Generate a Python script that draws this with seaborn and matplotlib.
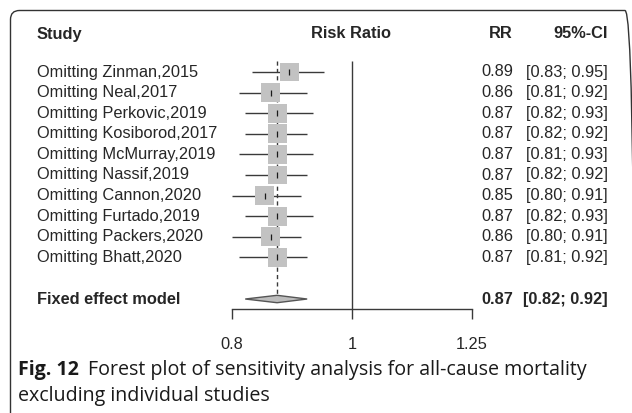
import numpy as np
import pandas as pd
import matplotlib
matplotlib.use("Agg")
import matplotlib.pyplot as plt
import seaborn as sns
from matplotlib.patches import FancyBboxPatch, Polygon
from matplotlib.transforms import blended_transform_factory, IdentityTransform

# ---- data -------------------------------------------------------------
studies = [
    "Omitting Zinman,2015", "Omitting Neal,2017", "Omitting Perkovic,2019",
    "Omitting Kosiborod,2017", "Omitting McMurray,2019", "Omitting Nassif,2019",
    "Omitting Cannon,2020", "Omitting Furtado,2019", "Omitting Packers,2020",
    "Omitting Bhatt,2020",
]
rr = [0.89, 0.86, 0.87, 0.87, 0.87, 0.87, 0.85, 0.87, 0.86, 0.87]
ci_low = [0.83, 0.81, 0.82, 0.82, 0.81, 0.82, 0.80, 0.82, 0.80, 0.81]
ci_high = [0.95, 0.92, 0.93, 0.92, 0.93, 0.92, 0.91, 0.93, 0.91, 0.92]
pooled_label = "Fixed effect model"
pooled_rr, pooled_low, pooled_high = 0.87, 0.82, 0.92
x_ticks = [0.8, 1, 1.25]
x_tick_labels = ["0.8", "1", "1.25"]
headers = ["Study", "Risk Ratio", "RR", "95%-CI"]
caption_bold = "Fig. 12"
caption_rest = "Forest plot of sensitivity analysis for all-cause mortality"
caption_line2 = "excluding individual studies"

df = pd.DataFrame({"study": studies, "rr": rr, "lo": ci_low, "hi": ci_high})
df["row"] = np.arange(len(df), dtype=float)
pooled_row = 11.02

# ---- figure -----------------------------------------------------------
sns.set_theme(style="white")
plt.rcParams["font.family"] = ["Liberation Sans", "DejaVu Sans"]
W, H = 632, 413
fig = plt.figure(figsize=(W / 100, H / 100), dpi=100)
fig.patch.set_facecolor("white")

def fx(px):
    return px / W

def fy(py):
    return 1 - py / H

TXT = "#262626"
LINE = "#3a3a3a"
FS = 11.8

# rounded frame around the figure panel (pixel coordinates, origin bottom-left)
frame = FancyBboxPatch((10.5, -12), 634 - 10.5, (H - 10.5) + 12,
                       boxstyle="round,pad=0,rounding_size=9",
                       transform=IdentityTransform(), facecolor="none",
                       edgecolor="#333333", lw=1.0)
fig.patches.append(frame)

# forest axes: log risk-ratio scale
ax_left, ax_right, ax_top, ax_bottom = 200, 500, 50, 309
ax = fig.add_axes([fx(ax_left), fy(ax_bottom), fx(ax_right) - fx(ax_left),
                   (ax_bottom - ax_top) / H])
ax.set_facecolor("none")
ax.set_xscale("log")
px_per_log = 538.0
x_ref = 352.0
ax.set_xlim(np.exp((ax_left - x_ref) / px_per_log), np.exp((ax_right - x_ref) / px_per_log))
row0, row_step = 72.0, 20.6
ax.set_ylim((ax_bottom - row0) / row_step, (ax_top - row0) / row_step)

# confidence intervals
ax.hlines(df["row"], df["lo"], df["hi"], color=LINE, lw=1.0, zorder=2)
# study weight squares
sns.scatterplot(data=df, x="rr", y="row", marker="s", s=185, color="#c2c2c2",
                edgecolor="none", legend=False, ax=ax, zorder=3)
# point estimate ticks
ax.scatter(df["rr"], df["row"], marker="|", s=22, color="#1a1a1a", lw=0.9, zorder=4)

# pooled estimate diamond
h = 0.18
diamond = Polygon([(pooled_low, pooled_row), (pooled_rr, pooled_row - h),
                   (pooled_high, pooled_row), (pooled_rr, pooled_row + h)],
                  closed=True, facecolor="#bdbdbd", edgecolor="#555555", lw=1.0, zorder=3)
ax.add_patch(diamond)

# reference lines
ax.vlines(1, (61 - row0) / row_step, ax.get_ylim()[0], color=LINE, lw=1.0, zorder=1)
ax.vlines(pooled_rr, (61 - row0) / row_step, pooled_row - h, color=LINE, lw=1.0,
          linestyles=(0, (3, 2.3)), zorder=1)

# axis styling
for side in ["top", "left", "right"]:
    ax.spines[side].set_visible(False)
ax.spines["bottom"].set_bounds(x_ticks[0], x_ticks[-1])
ax.spines["bottom"].set_color(LINE)
ax.spines["bottom"].set_linewidth(1.0)
ax.xaxis.set_minor_locator(matplotlib.ticker.NullLocator())
ax.set_xticks(x_ticks)
ax.set_xticklabels(x_tick_labels)
ax.tick_params(axis="x", which="major", direction="out", length=7.2, width=1.0,
               color=LINE, labelsize=FS, labelcolor=TXT, pad=13, bottom=True)
ax.set_yticks([])
ax.set_xlabel("")
ax.set_ylabel("")
ax.grid(False)

# text columns
trans = blended_transform_factory(fig.transFigure, ax.transData)
x_study, x_rr, x_ci = fx(37), fx(513), fx(608)
for _, r in df.iterrows():
    ax.text(x_study, r["row"], r["study"], transform=trans, ha="left", va="center",
            fontsize=FS, color=TXT)
    ax.text(x_rr, r["row"], f"{r['rr']:.2f}", transform=trans, ha="right",
            va="center", fontsize=FS, color=TXT)
    ax.text(x_ci, r["row"], f"[{r['lo']:.2f}; {r['hi']:.2f}]", transform=trans,
            ha="right", va="center", fontsize=FS, color=TXT)

ax.text(x_study, pooled_row, pooled_label, transform=trans, ha="left", va="center",
        fontsize=FS, color=TXT, fontweight="bold")
ax.text(x_rr, pooled_row, f"{pooled_rr:.2f}", transform=trans, ha="right",
        va="center", fontsize=FS, color=TXT, fontweight="bold")
ax.text(x_ci, pooled_row, f"[{pooled_low:.2f}; {pooled_high:.2f}]", transform=trans,
        ha="right", va="center", fontsize=FS, color=TXT, fontweight="bold")

# column headers
y_head = fy(34)
fig.text(x_study, y_head, headers[0], ha="left", va="center", fontsize=FS,
         fontweight="bold", color=TXT)
fig.text(fx(351), y_head, headers[1], ha="center", va="center", fontsize=FS,
         fontweight="bold", color=TXT)
fig.text(x_rr, y_head, headers[2], ha="right", va="center", fontsize=FS,
         fontweight="bold", color=TXT)
fig.text(x_ci, y_head, headers[3], ha="right", va="center", fontsize=FS,
         fontweight="bold", color=TXT)

# caption
cap_fs = 14.1
cap_font = ["Open Sans", "DejaVu Sans"]
t_bold = fig.text(fx(18), fy(370), caption_bold, ha="left", va="center",
                  fontsize=cap_fs, fontweight="bold", family=cap_font, color="#1a1a1a")
renderer = fig.canvas.get_renderer()
bb = t_bold.get_window_extent(renderer=renderer)
fig.text(fx(bb.x1 + 9), fy(370), caption_rest, ha="left", va="center",
         fontsize=cap_fs, family=cap_font, color="#1a1a1a")
fig.text(fx(18), fy(396), caption_line2, ha="left", va="center",
         fontsize=cap_fs, family=cap_font, color="#1a1a1a")

fig.savefig("out.png", dpi=100)
